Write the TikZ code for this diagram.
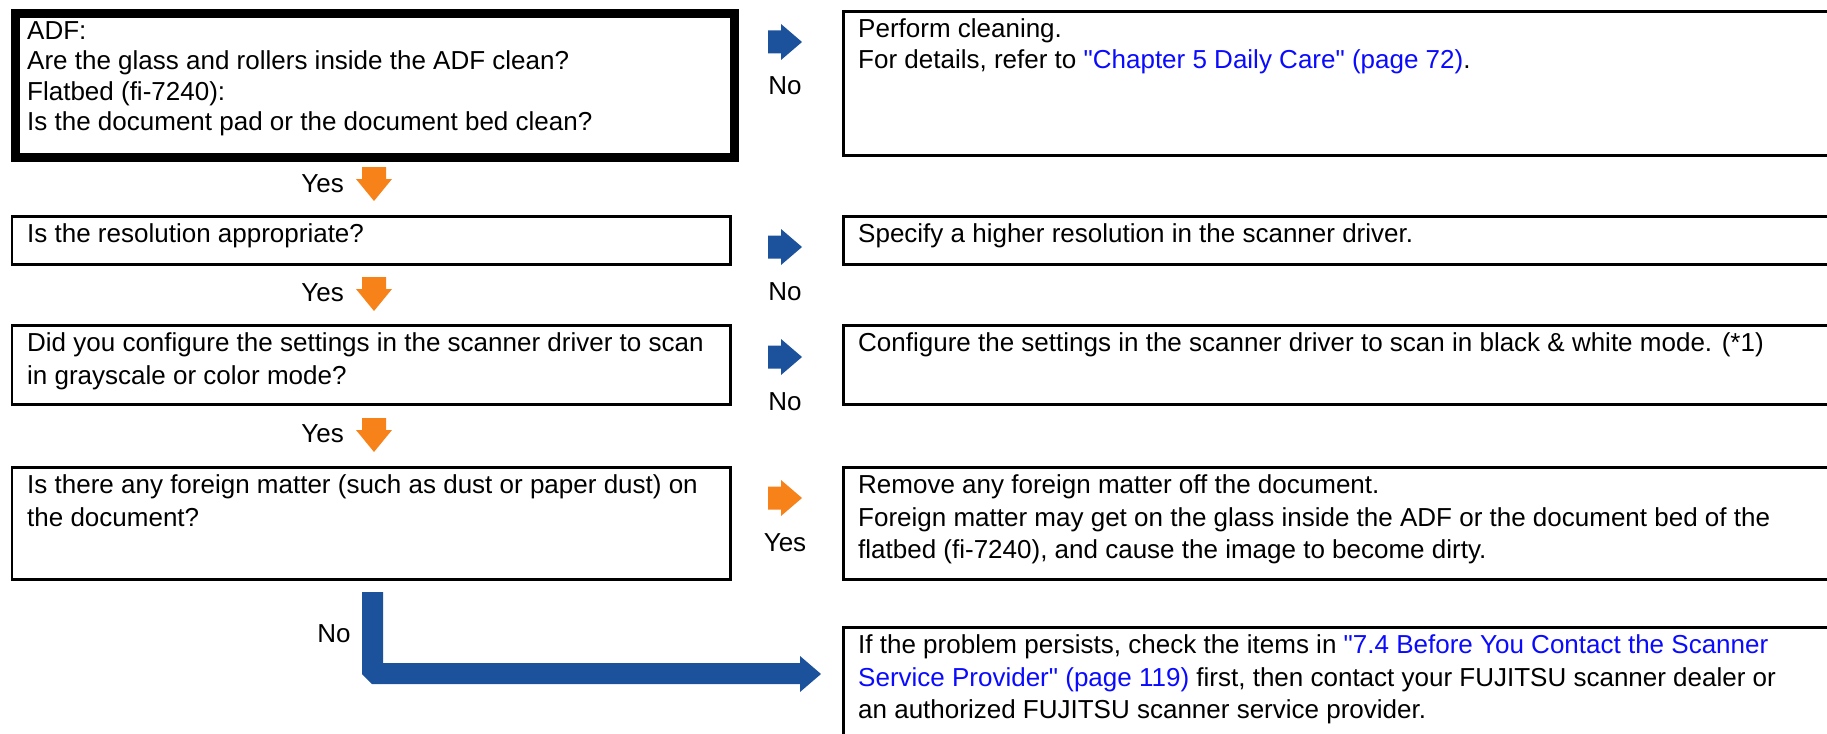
\documentclass[tikz,border=0pt]{standalone}
\usepackage{fontspec}
\setmainfont{Liberation Sans}[Ligatures=TeXOff]
\definecolor{arrblue}{RGB}{28,81,155}
\definecolor{arrorange}{RGB}{247,130,26}
\definecolor{linkblue}{RGB}{10,10,255}
\newcommand{\firststrut}{\rule{0pt}{22pt}}
\tikzset{
  box/.style={draw=black, line width=2.7pt, inner sep=0pt, anchor=north west},
  thickbox/.style={box, line width=9pt},
  txt/.style={inner sep=0pt, anchor=north west, align=left, font=\fontsize{26}{32.5}\selectfont},
  tighttxt/.style={txt, font=\fontsize{26}{30.5}\selectfont},
  lbl/.style={inner sep=0pt, anchor=base, font=\fontsize{26}{32.5}\selectfont},
  pics/rarr/.style={code={\fill[#1] (0,-11.5) -- (13,-11.5) -- (13,-18) -- (34,0) -- (13,18) -- (13,11.5) -- (0,11.5) -- cycle;}},
  pics/darr/.style={code={\fill[#1] (-12,0) -- (12,0) -- (12,12) -- (18,12) -- (0,34) -- (-18,12) -- (-12,12) -- cycle;}},
}
\begin{document}
\begin{tikzpicture}[x=1pt,y=-1pt]
\clip (0,0) rectangle (1827,733);
% question boxes
\node[thickbox, minimum width=719pt, minimum height=143pt] (q1) at (10.5,9.5) {};
\node[box, minimum width=718.5pt, minimum height=48pt] (q2) at (10.5,215) {};
\node[box, minimum width=718.5pt, minimum height=79pt] (q3) at (10.5,324) {};
\node[box, minimum width=718.5pt, minimum height=112pt] (q4) at (10.5,466) {};
% answer boxes
\node[box, minimum width=1000pt, minimum height=144pt] (a1) at (842,10) {};
\node[box, minimum width=1000pt, minimum height=48pt] (a2) at (842,215) {};
\node[box, minimum width=1000pt, minimum height=79pt] (a3) at (842,324) {};
\node[box, minimum width=1000pt, minimum height=112pt] (a4) at (842,466) {};
\node[box, minimum width=1000pt, minimum height=130pt] (a5) at (842,626) {};
% texts (first baseline about 27.5pt below the box top)
\node[tighttxt] (tq1) at ([xshift=16.5pt,yshift=-7.5pt]q1.north west) {\firststrut ADF:\\Are the glass and rollers inside the ADF clean?\\Flatbed (fi-7240):\\Is the document pad or the document bed clean?};
\node[txt] (tq2) at ([xshift=16.5pt,yshift=-5.5pt]q2.north west) {\firststrut Is the resolution appropriate?};
\node[txt] (tq3) at ([xshift=16.5pt,yshift=-5.5pt]q3.north west) {\firststrut Did you configure the settings in the scanner driver to scan\\in grayscale or color mode?};
\node[txt] (tq4) at ([xshift=16.5pt,yshift=-5.5pt]q4.north west) {\firststrut Is there any foreign matter (such as dust or paper dust) on\\the document?};
\node[tighttxt] (ta1) at ([xshift=16pt,yshift=-5.5pt]a1.north west) {\firststrut Perform cleaning.\\For details, refer to \textcolor{linkblue}{"Chapter 5 Daily Care" (page 72)}.};
\node[txt] (ta2) at ([xshift=16pt,yshift=-5.5pt]a2.north west) {\firststrut Specify a higher resolution in the scanner driver.};
\node[txt] (ta3) at ([xshift=16pt,yshift=-5.5pt]a3.north west) {\firststrut Configure the settings in the scanner driver to scan in black \& white mode. (*1)};
\node[txt] (ta4) at ([xshift=16pt,yshift=-5.5pt]a4.north west) {\firststrut Remove any foreign matter off the document.\\Foreign matter may get on the glass inside the ADF or the document bed of the\\flatbed (fi-7240), and cause the image to become dirty.};
\node[txt] (ta5) at ([xshift=16pt,yshift=-5.5pt]a5.north west) {\firststrut If the problem persists, check the items in \textcolor{linkblue}{"7.4 Before You Contact the Scanner}\\\textcolor{linkblue}{Service Provider" (page 119)} first, then contact your FUJITSU scanner dealer or\\an authorized FUJITSU scanner service provider.};
% yes arrows (down)
\pic at (374,167) {darr=arrorange};
\pic at (374,277) {darr=arrorange};
\pic at (374,418) {darr=arrorange};
\node[lbl, anchor=base east] (y1) at (344,192) {Yes};
\node[lbl, anchor=base east] (y2) at (344,301) {Yes};
\node[lbl, anchor=base east] (y3) at (344,442) {Yes};
% side arrows
\pic at (768,42) {rarr=arrblue};
\pic at (768,247) {rarr=arrblue};
\pic at (768,357) {rarr=arrblue};
\pic at (768,498) {rarr=arrorange};
\node[lbl] (n1) at (785,95) {No};
\node[lbl] (n2) at (785,300) {No};
\node[lbl] (n3) at (785,410) {No};
\node[lbl] (y4) at (785,551) {Yes};
% final L arrow
\fill[arrblue] (362,592) -- (383,592) -- (383,663) -- (800,663) -- (800,656) -- (821,674) -- (800,692) -- (800,684) -- (372,684) -- (362,674) -- cycle;
\node[lbl] (n4) at (334,642) {No};
\end{tikzpicture}
\end{document}
